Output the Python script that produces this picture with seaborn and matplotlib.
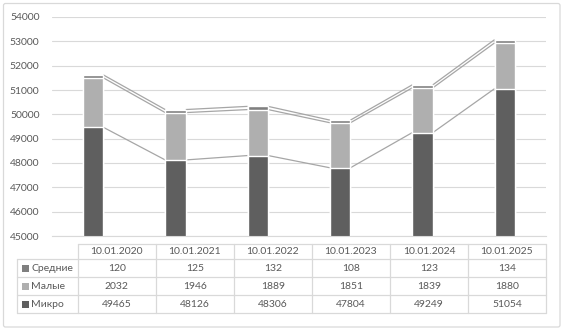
import matplotlib
matplotlib.use("Agg")
import matplotlib.pyplot as plt
from matplotlib.patches import FancyBboxPatch, Rectangle
import seaborn as sns
import pandas as pd
import numpy as np

# ---- data ----
dates = ["10.01.2020", "10.01.2021", "10.01.2022", "10.01.2023", "10.01.2024", "10.01.2025"]
series_names = ["Средние", "Малые", "Микро"]
medium = [120, 125, 132, 108, 123, 134]
small = [2032, 1946, 1889, 1851, 1839, 1880]
micro = [49465, 48126, 48306, 47804, 49249, 51054]
y_ticks = [45000, 46000, 47000, 48000, 49000, 50000, 51000, 52000, 53000, 54000]

colors = {"Средние": "#7f7f7f", "Малые": "#afafaf", "Микро": "#5f5f5f"}
text_color = "#595959"
grid_color = "#d9d9d9"
line_color = "#a6a6a6"

sns.set_theme(style="white")
plt.rcParams["font.family"] = ["Lato", "DejaVu Sans"]
FS = 7.5

W, H = 565, 334
fig = plt.figure(figsize=(W / 100, H / 100), dpi=100)
fig.patch.set_facecolor("white")

# plot area in pixel coords
px_left, px_right, px_top, px_bottom = 52, 546, 17, 236
ax = fig.add_axes([px_left / W, 1 - px_bottom / H, (px_right - px_left) / W, (px_bottom - px_top) / H])

cum_micro = np.array(micro)
cum_small = cum_micro + np.array(small)
cum_total = cum_small + np.array(medium)

df = pd.DataFrame({
    "date": dates * 3,
    "value": list(cum_total) + list(cum_small) + list(cum_micro),
    "series": ["Средние"] * 6 + ["Малые"] * 6 + ["Микро"] * 6,
})

bw = 0.25
for name in series_names:
    sub = df[df["series"] == name]
    sns.barplot(data=sub, x="date", y="value", color=colors[name], width=bw,
                saturation=1, errorbar=None, ax=ax, order=dates, zorder=3)

# series lines
for cum in (cum_micro, cum_small, cum_total):
    for i in range(len(dates) - 1):
        ax.plot([i + bw / 2, i + 1 - bw / 2], [cum[i], cum[i + 1]],
                color=line_color, lw=0.9, zorder=2, solid_capstyle="butt")

ax.set_ylim(y_ticks[0], y_ticks[-1])
ax.set_xlim(-0.5, len(dates) - 0.5)
ax.set_yticks(y_ticks)
ax.set_yticklabels([str(t) for t in y_ticks], fontsize=FS, color=text_color)
ax.tick_params(axis="y", length=0, pad=9)
ax.tick_params(axis="x", length=0, labelbottom=False)
ax.set_xlabel("")
ax.set_ylabel("")
ax.grid(axis="y", color=grid_color, lw=0.8, zorder=0)
ax.set_axisbelow(True)
for s in ("left", "right", "top"):
    ax.spines[s].set_visible(False)
ax.spines["bottom"].set_color(grid_color)
ax.spines["bottom"].set_linewidth(0.8)
ax.spines["bottom"].set_zorder(4)
ax.set_facecolor("none")

# ---- data table & frame, drawn in pixel coords ----
tab = fig.add_axes([0, 0, 1, 1], zorder=-1)
tab.set_xlim(0, W)
tab.set_ylim(H, 0)
tab.axis("off")

frame = FancyBboxPatch((3.5, 3.5), 556.5, 323.5, boxstyle="round,pad=0,rounding_size=2",
                       fc="white", ec=grid_color, lw=0.9)
tab.add_patch(frame)

col_x = np.linspace(77.7, 546, len(dates) + 1)
row_y = [244, 259, 277, 295, 313]
label_left = 17

tab.plot([col_x[0], col_x[-1]], [row_y[0], row_y[0]], color=grid_color, lw=0.9)
for y in row_y[1:]:
    tab.plot([label_left, col_x[-1]], [y, y], color=grid_color, lw=0.9)
tab.plot([label_left, label_left], [row_y[1], row_y[-1]], color=grid_color, lw=0.9)
for x in col_x:
    tab.plot([x, x], [row_y[0], row_y[-1]], color=grid_color, lw=0.9)

for j, d in enumerate(dates):
    cx = (col_x[j] + col_x[j + 1]) / 2
    tab.text(cx, (row_y[0] + row_y[1]) / 2 + 0.5, d, ha="center", va="center",
             fontsize=FS, color=text_color)

rows = [("Средние", medium), ("Малые", small), ("Микро", micro)]
for r, (name, vals) in enumerate(rows):
    yc = (row_y[r + 1] + row_y[r + 2]) / 2 + 0.5
    tab.add_patch(Rectangle((22, yc - 3.3), 6.5, 6.5, fc=colors[name], ec="none"))
    tab.text(31, yc, name, ha="left", va="center", fontsize=FS, color=text_color)
    for j, v in enumerate(vals):
        cx = (col_x[j] + col_x[j + 1]) / 2
        tab.text(cx, yc, str(v), ha="center", va="center", fontsize=FS, color=text_color)

fig.savefig("out.png", dpi=100, facecolor="white")
